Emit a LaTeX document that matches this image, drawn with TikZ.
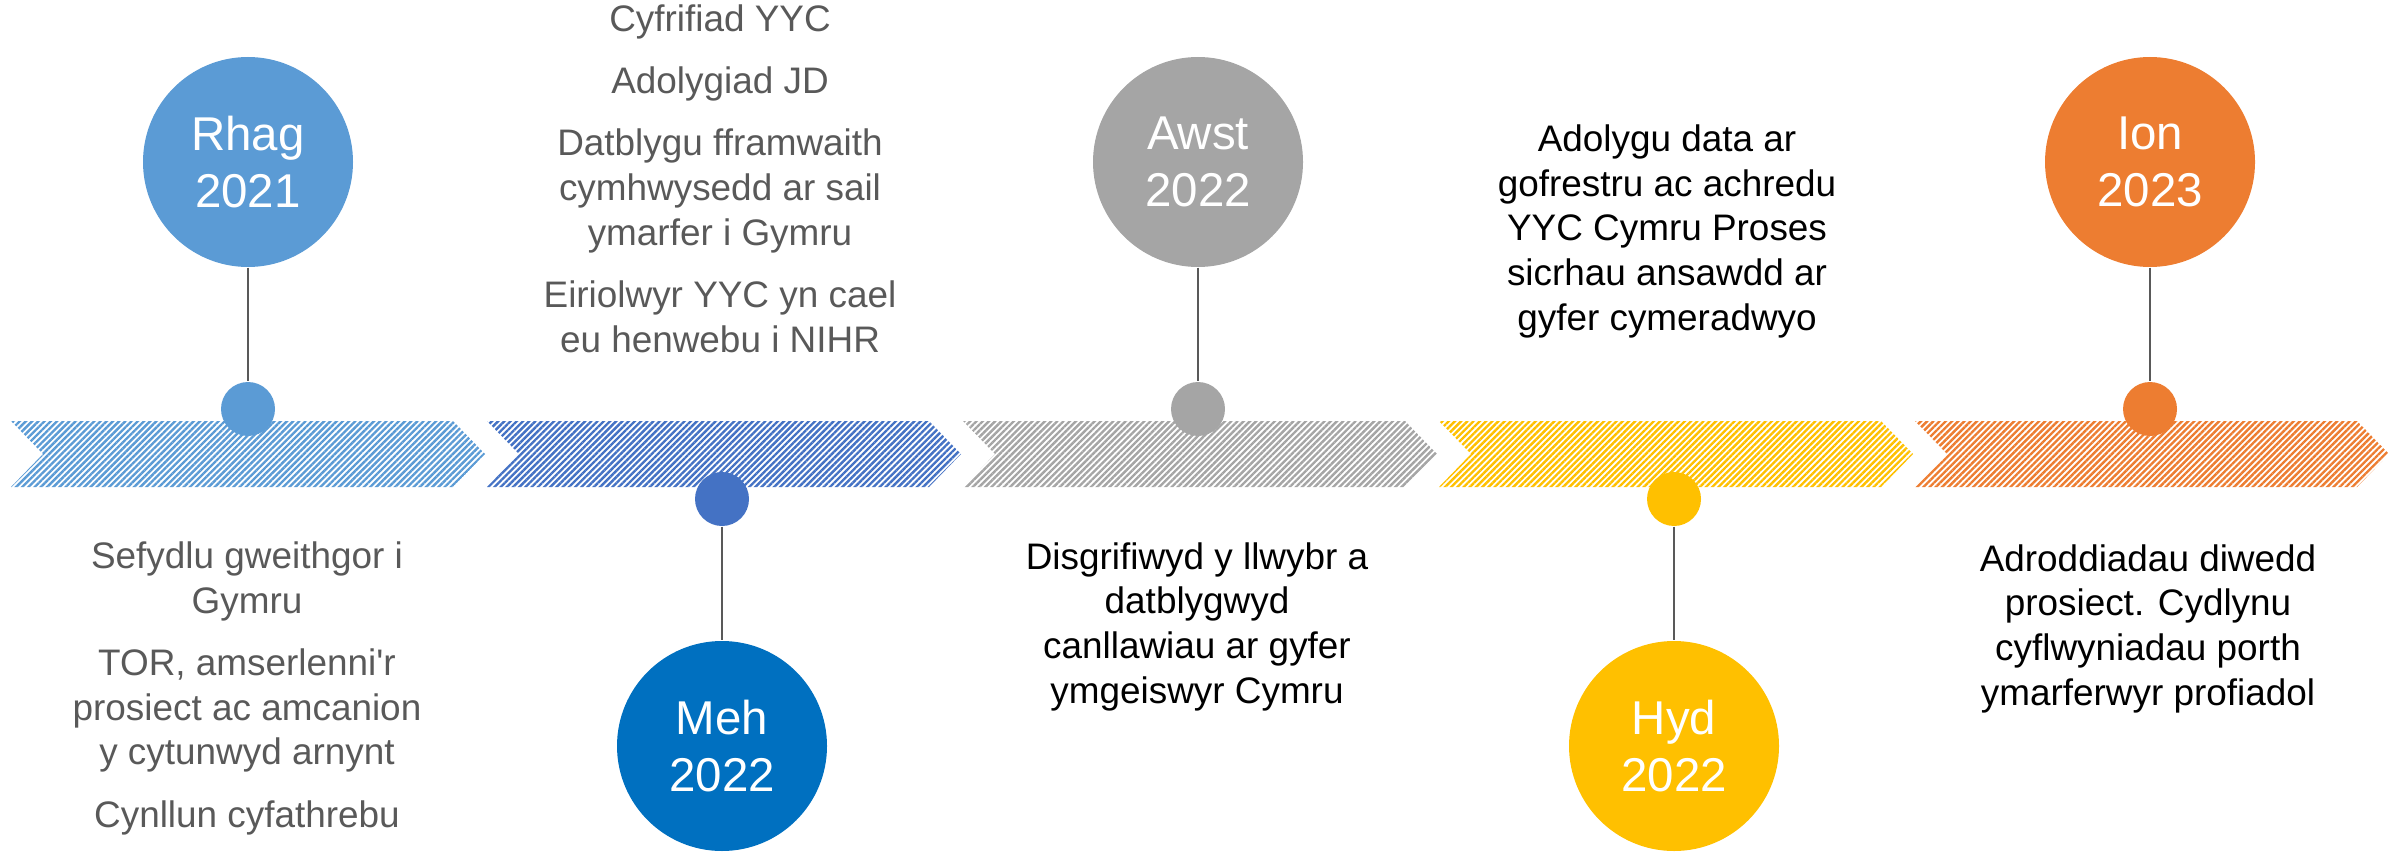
\documentclass[tikz,border=0pt]{standalone}
\usepackage{fontspec}
\setmainfont{Liberation Sans}
\usetikzlibrary{patterns.meta}
\definecolor{rhag}{HTML}{5B9BD5}
\definecolor{mehline}{HTML}{4472C4}
\definecolor{meh}{HTML}{0070C0}
\definecolor{awst}{HTML}{A5A5A5}
\definecolor{hyd}{HTML}{FFC000}
\definecolor{ion}{HTML}{ED7D31}
\definecolor{notegray}{HTML}{595959}
\tikzset{
event/.style={circle, fill=#1, minimum size=2.1cm, inner sep=0pt, text=white,
    align=center, font=\fontsize{13.5}{16.2}\selectfont},
marker/.style={circle, fill=#1, minimum size=0.54cm, inner sep=0pt},
notes/.style={align=center, inner sep=0pt, anchor=base,
    font=\fontsize{10.5}{12.7}\selectfont},
link/.style={draw=notegray, line width=0.5pt},
chevron/.style={pattern={Lines[angle=45,distance=1.25pt,line width=0.68pt]},
    pattern color=#1}
}

\begin{document}
\begin{tikzpicture}
\useasboundingbox (0,0) rectangle (24,8.51);

\foreach \x/\c in {0.11/rhag, 4.87/mehline, 9.63/awst, 14.39/hyd, 19.15/ion}
	\fill[chevron=\c] (\x,4.30) -- ++(4.42,0) -- ++(0.32,-0.33) -- ++(-0.32,-0.33)
		-- ++(-4.42,0) -- ++(0.32,0.33) -- cycle;

\node[event=rhag] (rhag) at (2.48,6.89) {Rhag\\2021};
\node[event=meh] (meh) at (7.22,1.05) {Meh\\2022};
\node[event=awst] (awst) at (11.98,6.89) {Awst\\2022};
\node[event=hyd] (hyd) at (16.74,1.05) {Hyd\\2022};
\node[event=ion] (ion) at (21.50,6.89) {Ion\\2023};

\node[marker=rhag] (m1) at (2.48,4.42) {};
\node[marker=mehline] (m2) at (7.22,3.52) {};
\node[marker=awst] (m3) at (11.98,4.42) {};
\node[marker=hyd] (m4) at (16.74,3.52) {};
\node[marker=ion] (m5) at (21.50,4.42) {};

\draw[link] (rhag) -- (m1);
\draw[link] (m2) -- (meh);
\draw[link] (awst) -- (m3);
\draw[link] (m4) -- (hyd);
\draw[link] (ion) -- (m5);

\node[notes, text=notegray] (n1) at (2.47,0.24)
	{Sefydlu gweithgor i\\Gymru\\[5pt]TOR, amserlenni\textquotesingle r\\prosiect ac amcanion\\y cytunwyd arnynt\\[5pt]Cynllun cyfathrebu};
\node[notes, text=notegray] (n2) at (7.20,4.99)
	{Cyfrifiad YYC\\[5pt]Adolygiad JD\\[5pt]Datblygu fframwaith\\cymhwysedd ar sail\\ymarfer i Gymru\\[5pt]Eiriolwyr YYC yn cael\\eu henwebu i NIHR};
\node[notes] (n3) at (11.97,1.48)
	{Disgrifiwyd y llwybr a\\datblygwyd\\canllawiau ar gyfer\\ymgeiswyr Cymru};
\node[notes] (n4) at (16.67,5.21)
	{Adolygu data ar\\gofrestru ac achredu\\YYC Cymru Proses\\sicrhau ansawdd ar\\gyfer cymeradwyo};
\node[notes] (n5) at (21.48,1.46)
	{Adroddiadau diwedd\\prosiect. Cydlynu\\cyflwyniadau porth\\ymarferwyr profiadol};
\end{tikzpicture}
\end{document}
